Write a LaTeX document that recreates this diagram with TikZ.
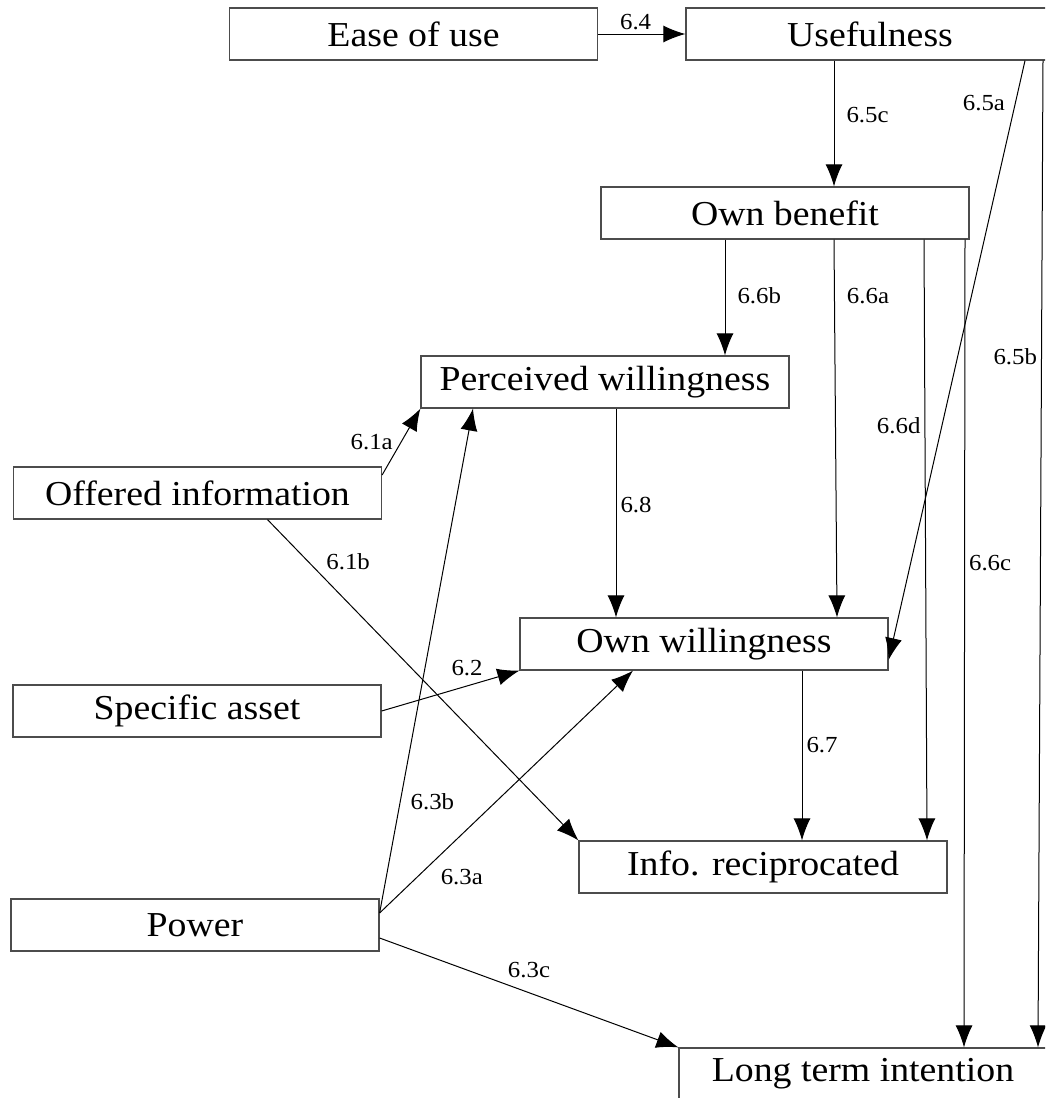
\documentclass[tikz,border=0pt]{standalone}
\usepackage{fontspec}
\setmainfont{Liberation Serif}[FakeStretch=1.08]
\usetikzlibrary{arrows.meta}

\begin{document}
\begin{tikzpicture}[x=0.5pt,y=-0.5pt,
  box/.style={draw=black!70,line width=0.6pt,minimum width=184pt,minimum height=26pt,
    inner sep=0pt,font=\fontsize{17.5}{20}\selectfont},
  arr/.style={-{Latex[length=11pt,width=8.5pt]},line width=0.5pt},
  lbl/.style={font=\fontsize{11.5}{13}\selectfont,inner sep=2pt}]
\useasboundingbox (0,0) rectangle (1045,1098);
\clip (0,0) rectangle (1045,1098);
% constructs
\node[box] (ease)      at (413.5,34) {Ease of use};
\node[box] (useful)    at (870,34)   {Usefulness};
\node[box] (benefit)   at (785,213)  {Own benefit};
\node[box] (perceived) at (605,382)  {Perceived willingness};
\node[box] (offered)   at (197.5,493) {Offered information};
\node[box] (ownwill)   at (704,644)  {Own willingness};
\node[box] (asset)     at (197,711)  {Specific asset};
\node[box] (inforec)   at (763,867)  {Info. reciprocated};
\node[box] (power)     at (195,925)  {Power};
\node[box] (longterm)  at (863,1074) {Long term intention};
% hypotheses
\draw[arr] (ease) -- node[lbl,above,pos=0.43]{6.4} (useful);
\draw[arr] ([xshift=-18pt]useful.south) -- node[lbl,right,pos=0.43,xshift=4pt]{6.5c} ([xshift=24.5pt]benefit.north);
\draw[arr] ([xshift=77.5pt]useful.south) -- node[lbl,left,pos=0.07,xshift=-3pt]{6.5a} ([yshift=-8pt]ownwill.east);
\draw[arr] ([xshift=86.5pt]useful.south) -- node[lbl,left,pos=0.30]{6.5b} ([xshift=87.5pt]longterm.north);
\draw[arr] ([xshift=-30pt]benefit.south) -- node[lbl,right,pos=0.48,xshift=4pt]{6.6b} ([xshift=60pt]perceived.north);
\draw[arr] ([xshift=24.5pt]benefit.south) -- node[lbl,right,pos=0.15,xshift=4pt]{6.6a} ([xshift=66.5pt]ownwill.north);
\draw[arr] ([xshift=69.5pt]benefit.south) -- node[lbl,left,pos=0.31]{6.6d} ([xshift=82pt]inforec.north);
\draw[arr] ([xshift=90pt]benefit.south) -- node[lbl,right,pos=0.40]{6.6c} ([xshift=50.5pt]longterm.north);
\draw[arr] ([xshift=5.5pt]perceived.south) -- node[lbl,right,pos=0.46]{6.8} ([xshift=-44pt]ownwill.north);
\draw[arr] ([xshift=49pt]ownwill.south) -- node[lbl,right,pos=0.44]{6.7} ([xshift=19.5pt]inforec.north);
\draw[arr] ([yshift=9pt]offered.east) -- node[lbl,left,pos=0.5,xshift=-2pt]{6.1a} (perceived.south west);
\draw[arr] ([xshift=35pt]offered.south) -- node[lbl,right,pos=0.13,xshift=7pt]{6.1b} (inforec.north west);
\draw[arr] (asset.east) -- node[lbl,above,pos=0.62,yshift=3pt]{6.2} (ownwill.south west);
\draw[arr] ([yshift=6pt]power.east) -- node[lbl,right,pos=0.22,xshift=3pt]{6.3b} ([xshift=-66pt]perceived.south);
\draw[arr] ([yshift=6pt]power.east) -- node[lbl,below right,pos=0.2,xshift=3pt]{6.3a} ([xshift=-35.5pt]ownwill.south);
\draw[arr] ([yshift=-6.5pt]power.east) -- node[lbl,above,pos=0.5,yshift=5pt]{6.3c} (longterm.north west);
\end{tikzpicture}
\end{document}
